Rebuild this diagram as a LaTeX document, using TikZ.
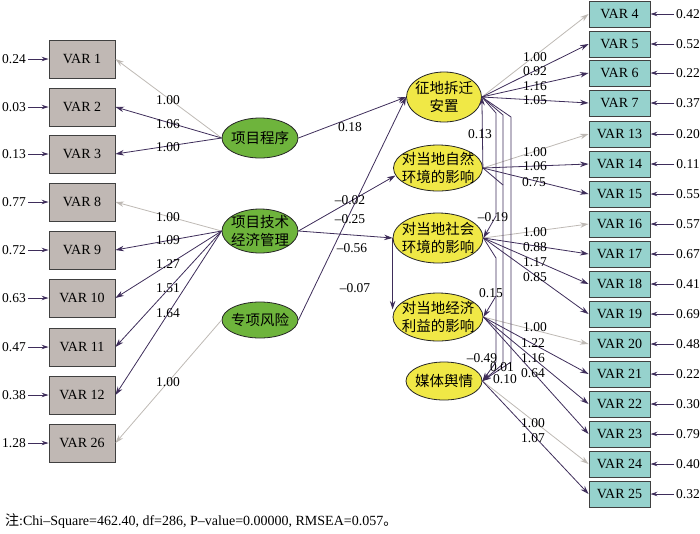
\documentclass[tikz,border=0pt]{standalone}
\usepackage{fontspec}
\setmainfont{Liberation Serif}
\newfontfamily\cjk{Noto Sans CJK SC}
\usetikzlibrary{shapes.geometric,arrows.meta}
\definecolor{dk}{HTML}{3E2D5A}
\definecolor{lg}{HTML}{BEB9B4}
\definecolor{lfill}{HTML}{C0B8B4}
\definecolor{rfill}{HTML}{96D2CD}
\definecolor{bord}{HTML}{404040}
\definecolor{grn}{HTML}{6EB43C}
\definecolor{ylw}{HTML}{F0E846}
\begin{document}
\begin{tikzpicture}[x=1pt,y=-1pt,
  lbox/.style={draw=bord,line width=0.9pt,fill=lfill,minimum width=66pt,minimum height=38pt,inner sep=0pt,font=\fontsize{14}{16}\selectfont},
  rbox/.style={draw=bord,line width=0.9pt,fill=rfill,minimum width=61pt,minimum height=26pt,inner sep=0pt,font=\fontsize{14}{16}\selectfont},
  gell/.style={ellipse,draw=black!85,line width=0.8pt,fill=grn,inner sep=0pt},
  yell/.style={ellipse,draw=black!85,line width=0.8pt,fill=ylw,inner sep=0pt},
  etxt/.style={font=\cjk\fontsize{14.5}{18}\selectfont,align=center,inner sep=0pt},
  num/.style={font=\fontsize{13.5}{15}\selectfont,inner sep=0pt},
  darr/.style={draw=dk,line width=0.8pt,-{Stealth[length=8.5pt,width=5.5pt]}},
  garr/.style={draw=lg,line width=0.8pt,-{Stealth[length=8.5pt,width=5.5pt]}},
  dline/.style={draw=dk,line width=0.8pt},
  earr/.style={draw=dk,line width=0.8pt,-{Stealth[length=7pt,width=4.5pt]},shorten <=2pt}
]
\useasboundingbox (0,0) rectangle (700,533);

% left boxes
\foreach \n/\y/\e in {1/59/0.24,2/107/0.03,3/154/0.13,8/202/0.77,9/250/0.72,10/298/0.63,11/347/0.47,12/395/0.38,26/443/1.28}{
  \node[lbox] (v\n) at (82,\y) {VAR \n};
  \node[num] (err\n) at (14,\y) {\e};
  \draw[earr] (err\n.east) -- (v\n.west);
}
% right boxes
\foreach \n/\y/\e in {4/14/0.42,5/44/0.52,6/73/0.22,7/103/0.37,13/134/0.20,14/164/0.11,15/194/0.55,16/224/0.57,17/254/0.67,18/284/0.41,19/314/0.69,20/344/0.48,21/374/0.22,22/404/0.30,23/434/0.79,24/464/0.40,25/494/0.32}{
  \node[rbox] (v\n) at (619.5,\y) {VAR \n};
  \node[num] (err\n) at (688,\y) {\e};
  \draw[earr] (err\n.west) -- (v\n.east);
}

% latent variables
\node[gell,minimum width=76pt,minimum height=40pt] (p1) at (260,138) {};
\node[etxt] (p1t) at (p1) {项目程序};
\node[gell,minimum width=76pt,minimum height=44pt] (p2) at (260,231) {};
\node[etxt] (p2t) at (p2) {项目技术\\经济管理};
\node[gell,minimum width=76pt,minimum height=36pt] (p3) at (260,320) {};
\node[etxt] (p3t) at (p3) {专项风险};

\node[yell,minimum width=75pt,minimum height=50pt] (z1) at (444,97) {};
\node[etxt] (z1t) at (z1) {征地拆迁\\安置};
\node[yell,minimum width=89pt,minimum height=46pt] (z2) at (438,168) {};
\node[etxt] (z2t) at (z2) {对当地自然\\环境的影响};
\node[yell,minimum width=90pt,minimum height=50pt] (z3) at (438,238) {};
\node[etxt] (z3t) at (z3) {对当地社会\\环境的影响};
\node[yell,minimum width=90pt,minimum height=48pt] (z4) at (438,317) {};
\node[etxt] (z4t) at (z4) {对当地经济\\利益的影响};
\node[yell,minimum width=76pt,minimum height=38pt] (z5) at (444,381) {};
\node[etxt] (z5t) at (z5) {媒体舆情};

% left loadings
\draw[garr] (p1.west) -- (v1.east);
\draw[darr] (p1.west) -- (v2.east);
\draw[darr] (p1.west) -- (v3.east);
\draw[garr] (p2.west) -- (v8.east);
\foreach \n in {9,10,11,12} \draw[darr] (p2.west) -- (v\n.east);
\draw[garr] (p3.west) -- (v26.east);

% right loadings
\draw[garr] (z1.east) -- (v4.west);
\foreach \n in {5,6,7} \draw[darr] (z1.east) -- (v\n.west);
\draw[garr] (z2.east) -- (v13.west);
\foreach \n in {14,15} \draw[darr] (z2.east) -- (v\n.west);
\draw[garr] (z3.east) -- (v16.west);
\foreach \n in {17,18,19} \draw[darr] (z3.east) -- (v\n.west);
\draw[garr] (z4.east) -- (v20.west);
\foreach \n in {21,22,23} \draw[darr] (z4.east) -- (v\n.west);
\draw[garr] (z5.east) -- (v24.west);
\draw[darr] (z5.east) -- (v25.west);

% structural paths
\draw[darr] (p1.east) -- (z1.west);
\draw[darr] (p3.east) -- (z1.west);
\draw[darr] (p2.east) -- (z2.190);
\draw[darr] (p2.east) -- (z3.west);
\draw[darr] (z3.west) -- (z3.west |- z4.170);
\draw[darr] (z2.east) -- (z1.east);

\coordinate (a1) at (496,113);
\coordinate (a2) at (496,216);
\coordinate (b1) at (503,115);
\coordinate (b2) at (503,185);
\coordinate (b3) at (503,364);
\coordinate (c1) at (511,117);
\coordinate (c2) at (511,362);
\coordinate (e1) at (496,258);
\coordinate (e2) at (496,296);
\coordinate (e3) at (496,362);
\draw[darr] (z1.east) -- (a1) -- (a2) -- (z3.east);
\draw[dline] (z1.east) -- (b1) -- (b2);
\draw[darr] (z2.east) -- (b2) -- (b3) -- (z5.east);
\draw[darr] (z1.east) -- (c1) -- (c2) -- (z5.east);
\draw[darr] (z3.east) -- (e1) -- (e2) -- (z4.east);
\draw[darr] (e2) -- (e3) -- (z5.east);

% left loading labels
\node[num] (q1) at (168,100) {1.00};
\node[num] (q2) at (168,124) {1.06};
\node[num] (q3) at (168,147) {1.00};
\node[num] (q8) at (168,217) {1.00};
\node[num] (q9) at (168,240) {1.09};
\node[num] (q10) at (168,264) {1.27};
\node[num] (q11) at (168,288) {1.51};
\node[num] (q12) at (168,313) {1.64};
\node[num] (q26) at (168,382) {1.00};

% right loading labels
\node[num] (q4) at (535,57) {1.00};
\node[num] (q5) at (535,71) {0.92};
\node[num] (q6) at (535,86) {1.16};
\node[num] (q7) at (535,100) {1.05};
\node[num] (q13) at (535,152) {1.00};
\node[num] (q14) at (535,166) {1.06};
\node[num] (q15) at (534,182) {0.75};
\node[num] (q16) at (535,232) {1.00};
\node[num] (q17) at (535,247) {0.88};
\node[num] (q18) at (535,262) {1.17};
\node[num] (q19) at (535,277) {0.85};
\node[num] (q20) at (535,327) {1.00};
\node[num] (q21) at (533,343) {1.22};
\node[num] (q22) at (533,358) {1.16};
\node[num] (q23) at (533,373) {0.64};
\node[num] (q24) at (533,423) {1.00};
\node[num] (q25) at (533,438) {1.07};

% structural labels
\node[num] (s1) at (350,127) {0.18};
\node[num] (s2) at (350,200) {--0.02};
\node[num] (s3) at (350,219) {--0.25};
\node[num] (s4) at (352,248) {--0.56};
\node[num] (s5) at (355,288) {--0.07};
\node[num] (s6) at (480,134) {0.13};
\node[num] (s7) at (493,217) {--0.19};
\node[num] (s8) at (491,293) {0.15};
\node[num] (s9) at (482,358) {--0.49};
\node[num] (s10) at (502,367) {0.01};
\node[num] (s11) at (505,379) {0.10};

% note
\node[anchor=west,inner sep=0pt,font=\fontsize{14}{16}\selectfont] (note) at (5,521) {{\cjk 注}:Chi--Square=462.40, df=286, P--value=0.00000, RMSEA=0.057{\cjk 。}};
\end{tikzpicture}
\end{document}
